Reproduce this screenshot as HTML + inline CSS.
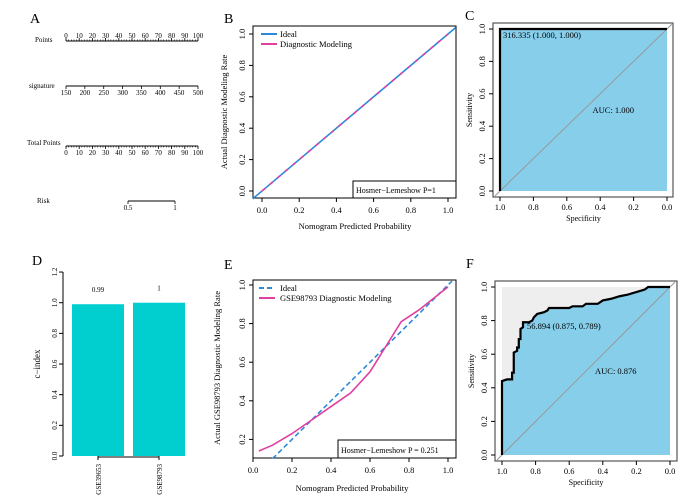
<!DOCTYPE html>
<html><head><meta charset="utf-8">
<style>
body{margin:0;background:#fff;}
svg{display:block;font-family:"Liberation Serif","Noto Serif CJK SC",serif;}
</style></head>
<body>
<svg id="fig" width="687" height="503" viewBox="0 0 687 503">
<g id="A">
<text x="30" y="23" font-size="14">A</text>
<text x="35" y="42" font-size="7">Points</text>
<text x="29" y="88" font-size="7">signature</text>
<text x="27" y="145" font-size="7">Total Points</text>
<text x="37" y="203" font-size="7">Risk</text>
</g>
<g id="B">
<text x="224" y="23" font-size="14">B</text>
<rect x="253" y="26" width="203" height="172" fill="none" stroke="#000"/>
<text transform="translate(227,112) rotate(-90)" text-anchor="middle" font-size="8.5">Actual Diagnostic Modeling Rate</text>
<text x="355" y="229" text-anchor="middle" font-size="8.5">Nomogram Predicted Probability</text>
<line x1="261" y1="34" x2="277" y2="34" stroke="#2a8ad8" stroke-width="2"/>
<text x="280" y="37" font-size="8.5">Ideal</text>
<line x1="261" y1="44" x2="277" y2="44" stroke="#e040a0" stroke-width="2"/>
<text x="280" y="47" font-size="8.5">Diagnostic Modeling</text>
<rect x="353" y="181" width="103" height="17" fill="#fff" stroke="#000"/>
<text x="356" y="193" font-size="8">Hosmer−Lemeshow   P=1</text>
</g>
<g id="C">
<text x="465" y="20" font-size="14">C</text>
</g>
<g id="D">
<text x="32" y="265" font-size="14">D</text>
<text transform="translate(40,364) rotate(-90)" text-anchor="middle" font-size="9">c−index</text>
</g>
<g id="E">
<text x="224" y="269" font-size="14">E</text>
<rect x="253" y="280" width="203" height="178" fill="none" stroke="#000"/>
<text transform="translate(220,368) rotate(-90)" text-anchor="middle" font-size="8.5">Actual GSE98793 Diagnostic Modeling Rate</text>
<text x="352" y="491" text-anchor="middle" font-size="8.5">Nomogram Predicted Probability</text>
<line x1="259" y1="288" x2="275" y2="288" stroke="#2a8ad8" stroke-width="2" stroke-dasharray="5,3"/>
<text x="280" y="291" font-size="8.5">Ideal</text>
<line x1="259" y1="298" x2="275" y2="298" stroke="#e040a0" stroke-width="2"/>
<text x="280" y="301" font-size="8.5">GSE98793 Diagnostic Modeling</text>
</g>
<g id="F">
<text x="466" y="268" font-size="14">F</text>
</g>
</svg>
<script>
// ---------- data ----------
const pointsTicks=[0,10,20,30,40,50,60,70,80,90,100];
const signatureTicks=[150,200,250,300,350,400,450,500];
const riskTicks=[0.5,1];
const calibTicks=[0,0.2,0.4,0.6,0.8,1.0];
const calibBIdeal=[[0,0],[1,1]];
const calibEPred=[0.03,0.1,0.2,0.3,0.4,0.5,0.6,0.68,0.76,0.85,1.0];
const calibEObs=[0.14,0.17,0.23,0.3,0.37,0.44,0.55,0.68,0.81,0.87,0.99];
const cindexCats=["GSE39653","GSE98793"];
const cindexVals=[0.99,1];
const cindexLabels=["0.99","1"];
const cindexTicks=[0,0.2,0.4,0.6,0.8,1.0,1.2];
const rocTicks=[1.0,0.8,0.6,0.4,0.2,0.0];
const rocCSpec=[1,1,0];
const rocCSens=[0,1,1];
const rocFSpec=[1,1,0.97,0.94,0.94,0.93,0.93,0.91,0.91,0.90,0.90,0.89,0.89,0.875,0.875,0.84,0.82,0.81,0.80,0.79,0.75,0.73,0.72,0.60,0.58,0.52,0.50,0.43,0.40,0.35,0.30,0.25,0.20,0.15,0.13,0];
const rocFSens=[0,0.44,0.45,0.45,0.49,0.49,0.61,0.62,0.64,0.64,0.69,0.69,0.75,0.76,0.79,0.79,0.80,0.82,0.83,0.84,0.85,0.86,0.875,0.875,0.885,0.885,0.90,0.90,0.92,0.93,0.945,0.955,0.97,0.985,1.0,1.0];

const NS="http://www.w3.org/2000/svg";
function mk(parent,tag,attrs,text){const e=document.createElementNS(NS,tag);for(const k in attrs)e.setAttribute(k,attrs[k]);if(text!==undefined)e.textContent=text;document.getElementById(parent).appendChild(e);return e;}
function fmt1(v){return v.toFixed(1);}

// ---------- A nomogram ----------
function nomoAxis(ticks,lo,hi,x0,x1,y,above,minor,name){
  const sx=v=>x0+(v-lo)/(hi-lo)*(x1-x0);
  let e=mk('A','line',{x1:x0,y1:y,x2:x1,y2:y,stroke:'#000','stroke-width':1});
  
  
  if(minor){for(let v=lo;v<=hi+1e-9;v+=minor){const t=mk('A','line',{x1:sx(v),y1:y,x2:sx(v),y2:y+(above?-1.5:1.5),stroke:'#000','stroke-width':0.6});
    
    }}
  ticks.forEach(v=>{const t=mk('A','line',{x1:sx(v),y1:y,x2:sx(v),y2:y+(above?-3:3),stroke:'#000','stroke-width':0.8});
    
    
    const l=mk('A','text',{x:sx(v),y:above?y-3:y+9,'text-anchor':'middle','font-size':7},String(v));
    
    });
}
nomoAxis(pointsTicks,0,100,66,198,41,true,2,'points');
nomoAxis(signatureTicks,150,500,66,198,86,false,null,'signature');
nomoAxis(pointsTicks,0,100,66,198,146,false,2,'total-points');
nomoAxis(riskTicks,0.5,1,128,175,201,false,null,'risk');

// ---------- B calibration ----------
(function(){
  const sx=v=>262+v*186, sy=v=>191-v*157;
  calibTicks.forEach(v=>{
    let t=mk('B','line',{x1:sx(v),y1:198,x2:sx(v),y2:202,stroke:'#000'});
    
    
    let l=mk('B','text',{x:sx(v),y:213,'text-anchor':'middle','font-size':8.5},fmt1(v));
    
    
    t=mk('B','line',{x1:249,y1:sy(v),x2:253,y2:sy(v),stroke:'#000'});
    
    
    l=mk('B','text',{transform:`translate(245,${sy(v)}) rotate(-90)`,'text-anchor':'middle','font-size':8.5},fmt1(v));
    
    
  });
  const x0=-0.05,x1=1.04;
  let l=mk('B','line',{x1:sx(x0),y1:sy(x0),x2:sx(x1),y2:sy(x1),stroke:'#2a8ad8','stroke-width':1.6});
  
  
  l=mk('B','line',{x1:sx(calibBIdeal[0][0]),y1:sy(calibBIdeal[0][1]),x2:sx(calibBIdeal[1][0]),y2:sy(calibBIdeal[1][1]),stroke:'#e040a0','stroke-width':1.6,'stroke-dasharray':'4,6'});
  
  
})();

// ---------- ROC ----------
function roc(g,spec,sens,box,p1x,p0x,p1y,p0y,label,auc,lx,ly,pre){
  const sx=v=>p0x+v*(p1x-p0x), sy=v=>p0y-v*(p0y-p1y);
  let r=mk(g,'rect',{x:sx(1),y:sy(1),width:sx(0)-sx(1),height:sy(0)-sy(1),fill:'#eeeeee'});
  
  
  let pts=spec.map((s,i)=>sx(s)+','+sy(sens[i])).join(' ')+' '+sx(0)+','+sy(0);
  let p=mk(g,'polygon',{points:pts,fill:'#87ceeb'});
  
  
  let d=mk(g,'line',{x1:sx(1.03),y1:sy(-0.03),x2:sx(-0.03),y2:sy(1.03),stroke:'#999','stroke-width':1});
  
  
  let c=mk(g,'polyline',{points:spec.map((s,i)=>sx(s)+','+sy(sens[i])).join(' '),fill:'none',stroke:'#000','stroke-width':2.2});
  
  
  let b=mk(g,'rect',{x:box[0],y:box[1],width:box[2]-box[0],height:box[3]-box[1],fill:'none',stroke:'#555','stroke-width':1.2});
  
  
  rocTicks.forEach(v=>{
    let t=mk(g,'line',{x1:sx(v),y1:box[3],x2:sx(v),y2:box[3]+4,stroke:'#000'});
    
    
    let l=mk(g,'text',{x:sx(v),y:box[3]+13,'text-anchor':'middle','font-size':8.5},fmt1(v));
    
    
    t=mk(g,'line',{x1:box[0]-4,y1:sy(v),x2:box[0],y2:sy(v),stroke:'#000'});
    
    
    l=mk(g,'text',{transform:`translate(${box[0]-8},${sy(v)}) rotate(-90)`,'text-anchor':'middle','font-size':8.5},fmt1(v));
    
    
  });
  let t=mk(g,'text',{x:(sx(1)+sx(0))/2,y:box[3]+24,'text-anchor':'middle','font-size':8},'Specificity');
  
  
  t=mk(g,'text',{transform:`translate(${box[0]-21},${(box[1]+box[3])/2}) rotate(-90)`,'text-anchor':'middle','font-size':8},'Sensitivity');
  
  
  t=mk(g,'text',{x:lx,y:ly,'font-size':8.5},label);
  
  
  t=mk(g,'text',{x:(sx(1)+sx(0))/2+9,y:(sy(0)+sy(1))/2+3,'font-size':8.5},'AUC: '+auc);
  
  
}
roc('C',rocCSpec,rocCSens,[493,23,673,197],500,667,29,191,'316.335 (1.000, 1.000)','1.000',503,38,'c');
roc('F',rocFSpec,rocFSens,[495,281,677,461],502,670,287,455,'56.894 (0.875, 0.789)','0.876',527,329,'f');

// ---------- D bars ----------
(function(){
  const sy=v=>456-v*153.3;
  const bx=[72,133], bw=52;
  let ax=mk('D','line',{x1:63,y1:sy(0),x2:63,y2:sy(1.2),stroke:'#000'});
  
  
  cindexTicks.forEach(v=>{
    let t=mk('D','line',{x1:59,y1:sy(v),x2:63,y2:sy(v),stroke:'#000'});
    
    
    let l=mk('D','text',{transform:`translate(57,${sy(v)}) rotate(-90)`,'text-anchor':'middle','font-size':7},fmt1(v));
    
    
  });
  cindexVals.forEach((v,i)=>{
    let r=mk('D','rect',{x:bx[i],y:sy(v),width:bw,height:sy(0)-sy(v),fill:'#00cecf'});
    
    
    let l=mk('D','text',{x:bx[i]+bw/2,y:sy(v)-12,'text-anchor':'middle','font-size':7},cindexLabels[i]);
    
    
    let t=mk('D','line',{x1:bx[i]+bw/2,y1:sy(0),x2:bx[i]+bw/2,y2:sy(0)+4,stroke:'#000'});
    
    
    l=mk('D','text',{transform:`translate(${bx[i]+bw/2+3},${sy(0)+8}) rotate(-90)`,'text-anchor':'end','font-size':7},cindexCats[i]);
    
    
  });
  let xl=mk('D','line',{x1:bx[0]+bw/2,y1:sy(0)+1,x2:bx[1]+bw/2,y2:sy(0)+1,stroke:'#000'});
  
  
})();

// ---------- E calibration ----------
(function(){
  const sx=v=>253+v*195, sy=v=>478-v*193;
  calibTicks.forEach(v=>{
    let t=mk('E','line',{x1:sx(v),y1:458,x2:sx(v),y2:462,stroke:'#000'});
    
    
    let l=mk('E','text',{x:sx(v),y:473,'text-anchor':'middle','font-size':8.5},fmt1(v));
    
    
    if(v>0){
      t=mk('E','line',{x1:249,y1:sy(v),x2:253,y2:sy(v),stroke:'#000'});
      
      
      l=mk('E','text',{transform:`translate(245,${sy(v)}) rotate(-90)`,'text-anchor':'middle','font-size':8.5},fmt1(v));
      
      
    }
  });
  let l=mk('E','line',{x1:sx(0.1),y1:sy(0.1),x2:sx(1.02),y2:sy(1.02),stroke:'#2a8ad8','stroke-width':1.6,'stroke-dasharray':'5,3'});
  
  
  let p=mk('E','polyline',{points:calibEPred.map((x,i)=>sx(x)+','+sy(calibEObs[i])).join(' '),fill:'none',stroke:'#e040a0','stroke-width':1.6,'stroke-linejoin':'round'});
  
  
  let r=mk('E','rect',{x:338,y:440,width:118,height:18,fill:'#fff',stroke:'#000'});
  
  
  let t=mk('E','text',{x:341,y:453,'font-size':8},'Hosmer−Lemeshow  P = 0.251');
  
  
})();
</script>
</body></html>
